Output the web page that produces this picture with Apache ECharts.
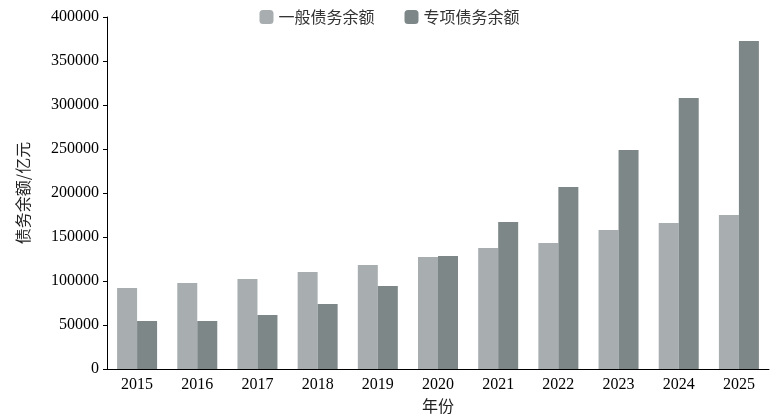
<!DOCTYPE html>
<html><head><meta charset="utf-8">
<script src="https://cdn.jsdelivr.net/npm/echarts@6/dist/echarts.min.js"></script>
<style>html,body{margin:0;padding:0;background:#fff}#c{width:779px;height:420px}</style>
</head><body><div id="c"></div>
<script>
const years=['2015','2016','2017','2018','2019','2020','2021','2022','2023','2024','2025'];
const general=[92000,97700,102300,110200,118200,127300,137500,143200,158000,166000,175000];
const special=[54500,54500,61400,73900,94300,128400,167000,206800,248900,308000,372700];
const font='"Liberation Serif","DejaVu Serif",serif';
const chart=echarts.init(document.getElementById('c'));
chart.setOption({
  animation:false,
  textStyle:{fontFamily:font},
  legend:{top:4,left:'center',itemWidth:14,itemHeight:14,itemGap:30,
    textStyle:{fontFamily:'"Noto Sans CJK SC",sans-serif',fontSize:16,color:'#333'},
    data:['一般债务余额','专项债务余额']},
  grid:{left:107,right:10,top:17,bottom:51},
  xAxis:{type:'category',data:years,name:'年份',nameLocation:'middle',nameGap:28,
    nameTextStyle:{fontFamily:'"Noto Sans CJK SC",sans-serif',fontSize:16,color:'#222'},
    axisLine:{lineStyle:{color:'#000'}},axisTick:{show:false},
    axisLabel:{color:'#000',fontSize:16,fontFamily:font}},
  yAxis:{type:'value',min:0,max:400000,interval:50000,name:'债务余额/亿元',
    nameLocation:'middle',nameGap:76,
    nameTextStyle:{fontFamily:'"Noto Sans CJK SC",sans-serif',fontSize:16,color:'#222'},
    axisLine:{show:true,lineStyle:{color:'#000'}},axisTick:{show:true,length:4,lineStyle:{color:'#000'}},
    splitLine:{show:false},axisLabel:{color:'#000',fontSize:16,fontFamily:font,formatter:v=>String(v)}},
  series:[
    {name:'一般债务余额',type:'bar',data:general,barWidth:20,barGap:'0%',itemStyle:{color:'#a8aeb0'}},
    {name:'专项债务余额',type:'bar',data:special,barWidth:20,itemStyle:{color:'#7e8788'}}
  ]
});
</script></body></html>
